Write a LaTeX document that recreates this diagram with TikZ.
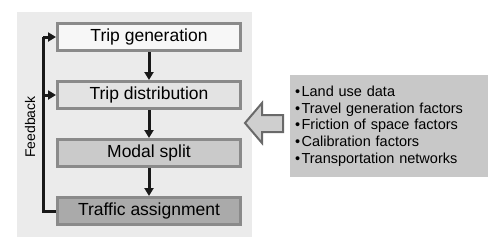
\documentclass[tikz,border=0pt]{standalone}
\usepackage{fontspec}
\setmainfont{Liberation Sans}
\usepackage{tikz}
\usetikzlibrary{arrows.meta, positioning, calc}
\definecolor{panelgray}{RGB}{235,235,235}
\definecolor{edgegray}{RGB}{138,138,138}
\definecolor{genfill}{RGB}{247,247,247}
\definecolor{distfill}{RGB}{227,227,227}
\definecolor{modfill}{RGB}{202,202,202}
\definecolor{asgfill}{RGB}{170,170,170}
\definecolor{infofill}{RGB}{200,200,200}
\definecolor{arrfill}{RGB}{207,207,207}
\definecolor{arredge}{RGB}{105,105,105}

\begin{document}
\begin{tikzpicture}[
  x=1pt,y=-1pt,
  font=\fontsize{17.5}{20}\selectfont,
  stage/.style={draw=edgegray,line width=3pt,minimum width=183pt,
                minimum height=27pt,inner sep=0pt,align=center},
  info/.style={fill=infofill,minimum width=198pt,minimum height=102pt,
               text width=188pt,inner sep=5pt,align=left,
               font=\fontsize{14.5}{16.7}\selectfont},
  bigarr/.style={draw=arredge,fill=arrfill,line width=2pt,line join=miter},
  flow/.style={-{Triangle[length=8pt,width=9pt]},line width=3pt,color=black!90},
  node distance=28pt
]
  \useasboundingbox (0,0) rectangle (504,247);
  \fill[panelgray] (17,12) rectangle (252,237);

  \node[stage,fill=genfill] (gen) at (149,37) {Trip generation};
  \node[stage,fill=distfill,below=of gen] (dist) {Trip distribution};
  \node[stage,fill=modfill,below=of dist] (modal) {Modal split};
  \node[stage,fill=asgfill,below=of modal] (assign) {Traffic assignment};

  \foreach \a/\b in {gen/dist,dist/modal,modal/assign}
    \draw[flow] (\a.south)--(\b.north);

  % feedback loop
  \coordinate (fbtop) at ([xshift=-13pt]gen.west);
  \coordinate (fbmid) at ([xshift=-13pt]dist.west);
  \draw[flow,-] (assign.west) -| (fbtop);
  \draw[flow] (fbtop) -- (gen.west);
  \draw[flow] (fbmid) -- (dist.west);
  \node[rotate=90,font=\fontsize{14}{16}\selectfont] (fb) at (30,127) {Feedback};

  \node[info] (data) at (389,126)
    {•\hspace{1.5pt}Land use data\\
     •\hspace{1.5pt}Travel generation factors\\
     •\hspace{1.5pt}Friction of space factors\\
     •\hspace{1.5pt}Calibration factors\\
     •\hspace{1.5pt}Transportation networks};

  % hollow input arrow
  \coordinate (inarr) at (245,123);
  \draw[bigarr] (inarr) -- ++(17,-20) -- ++(0,12) -- ++(21,0) -- ++(0,17)
    -- ++(-21,0) -- ++(0,11) -- cycle;
\end{tikzpicture}
\end{document}
